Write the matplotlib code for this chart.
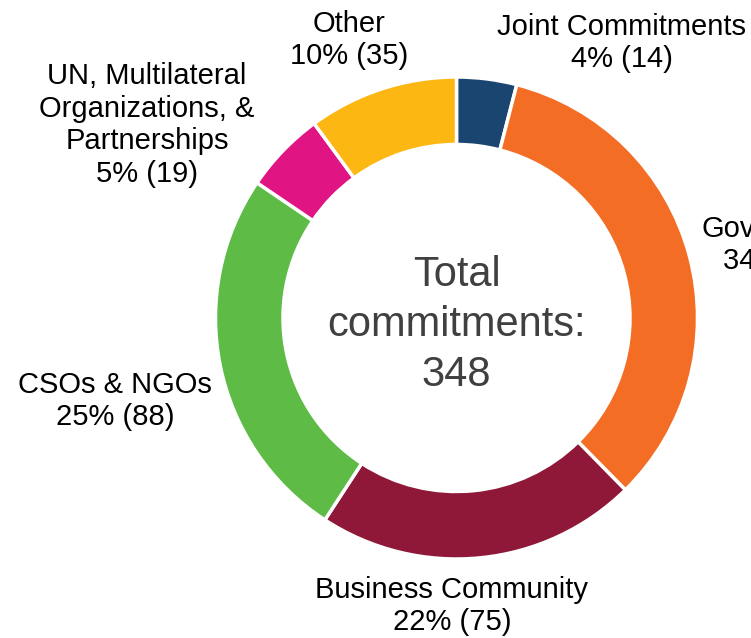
import matplotlib.pyplot as plt

plt.rcParams['font.family'] = ['Liberation Sans', 'DejaVu Sans']

# commitments by stakeholder group, clockwise from 12 o'clock
groups = ['Joint Commitments', 'Governments', 'Business Community',
          'CSOs & NGOs', 'UN, Multilateral\nOrganizations, &\nPartnerships', 'Other']
counts = [14, 117, 75, 88, 19, 35]
colors = ['#1A4570', '#F36D25', '#8F1838', '#5DBB46', '#E11484', '#FDB713']

# label anchor (pixel) positions, kept apart from the data
label_px = [(622, 43), (789, 245), (452, 606), (115, 401), (147, 125), (349, 40)]

W, H = 751, 638
cx, cy, R = 456.5, 318, 241

fig = plt.figure(figsize=(W / 100, H / 100), dpi=100)
ax = fig.add_axes([0, 0, 1, 1])

total = sum(counts)
ax.pie(counts, colors=colors, startangle=90, counterclock=False, radius=1,
       wedgeprops=dict(width=0.28, edgecolor='white', linewidth=2.5))

# pie() resets the limits, so map pixels to data units afterwards
ax.set_xlim(-cx / R, (W - cx) / R)
ax.set_ylim((cy - H) / R, cy / R)
ax.axis('off')

for name, n, (px, py) in zip(groups, counts, label_px):
    pct = round(100 * n / total)
    ax.text((px - cx) / R, (cy - py) / R, f'{name}\n{pct}% ({n})',
            ha='center', va='center', fontsize=21, color='black',
            linespacing=1.22, clip_on=False)

ax.text(0, -0.03, f'Total\ncommitments:\n{total}', ha='center', va='center',
        fontsize=30, color='#404040', linespacing=1.32)

fig.savefig('out.png', dpi=100)
